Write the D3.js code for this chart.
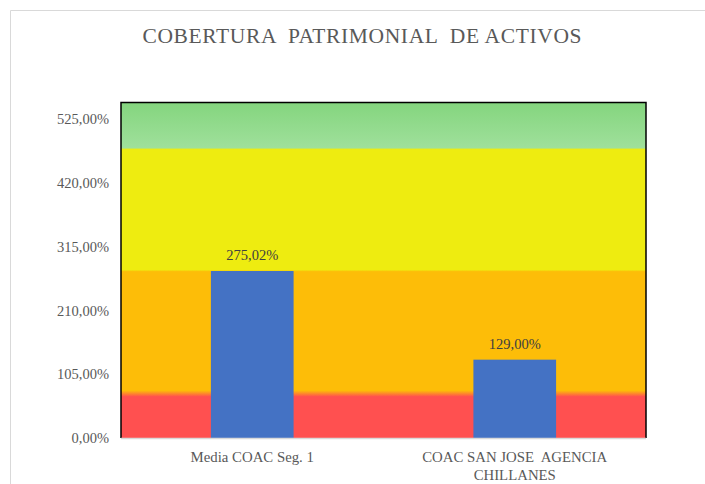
<!DOCTYPE html>
<html>
<head>
<meta charset="utf-8">
<script src="https://cdn.jsdelivr.net/npm/d3@7"></script>
<style>
  html, body { margin: 0; padding: 0; background: #fff; }
  svg { display: block; }
  text { white-space: pre; }
</style>
</head>
<body>
<svg id="chart" width="705" height="484"></svg>
<script>
const title = "COBERTURA  PATRIMONIAL  DE ACTIVOS";
const categories = ["Media COAC Seg. 1", "COAC SAN JOSE  AGENCIA CHILLANES"];
const categoryLines = [["Media COAC Seg. 1"], ["COAC SAN JOSE  AGENCIA", "CHILLANES"]];
const values = [275.02, 129.00];
const valueLabels = ["275,02%", "129,00%"];
const tickValues = [0, 105, 210, 315, 420, 525];
const tickLabels = ["0,00%", "105,00%", "210,00%", "315,00%", "420,00%", "525,00%"];
const yMax = 552.5;
// background zones (value thresholds)
const zoneBreaks = [70, 275, 476];
const zoneColors = ["#ff5050", "#fdbd08", "#eeec10", "#9fe09b", "#84d57e"];

const W = 705, H = 484;
const m = { left: 121, right: 59, top: 102.5, bottom: 46 };
const svg = d3.select("#chart");
const FONT = "'Liberation Serif', 'Times New Roman', serif";

// outer chart border (partially visible)
svg.append("path")
  .attr("d", `M10.5,${H} L10.5,10.5 L${W},10.5`)
  .attr("fill", "none").attr("stroke", "#d9d9d9").attr("stroke-width", 1);

const x = d3.scaleBand().domain(categories).range([m.left, W - m.right]).paddingInner(0).paddingOuter(0);
const y = d3.scaleLinear().domain([0, yMax]).range([H - m.bottom, m.top]);

// gradient for background
const defs = svg.append("defs");
const grad = defs.append("linearGradient").attr("id", "bg")
  .attr("gradientUnits", "userSpaceOnUse")
  .attr("x1", 0).attr("x2", 0).attr("y1", y(0)).attr("y2", y(yMax));
const off = v => (v / yMax);
const stops = [
  [0, zoneColors[0]],
  [off(zoneBreaks[0] - 2), zoneColors[0]],
  [off(zoneBreaks[0] + 8), zoneColors[1]],
  [off(zoneBreaks[1] - 1), zoneColors[1]],
  [off(zoneBreaks[1] + 2), zoneColors[2]],
  [off(zoneBreaks[2] - 1), zoneColors[2]],
  [off(zoneBreaks[2] + 2), zoneColors[3]],
  [1, zoneColors[4]]
];
stops.forEach(([o, c]) => grad.append("stop").attr("offset", o).attr("stop-color", c));

svg.append("rect")
  .attr("x", m.left).attr("y", y(yMax))
  .attr("width", W - m.right - m.left).attr("height", y(0) - y(yMax))
  .attr("fill", "url(#bg)");

// bars
const bw = x.bandwidth() * 0.315;
svg.selectAll("rect.bar").data(values).enter().append("rect")
  .attr("class", "bar")
  .attr("x", (d, i) => x(categories[i]) + x.bandwidth() / 2 - bw / 2)
  .attr("y", d => y(d))
  .attr("width", bw)
  .attr("height", d => y(0) - y(d))
  .attr("fill", "#4472c4");

// data labels
svg.selectAll("text.vl").data(values).enter().append("text")
  .attr("class", "vl")
  .attr("x", (d, i) => x(categories[i]) + x.bandwidth() / 2)
  .attr("y", d => y(d) - 11)
  .attr("text-anchor", "middle")
  .attr("font-family", FONT)
  .attr("font-size", 14.5)
  .attr("fill", "#404040")
  .text((d, i) => valueLabels[i]);

// frame: left, top, right black
svg.append("path")
  .attr("d", `M${m.left},${y(0)} L${m.left},${y(yMax)} L${W - m.right},${y(yMax)} L${W - m.right},${y(0)}`)
  .attr("fill", "none").attr("stroke", "#000").attr("stroke-width", 1.5);

// bottom axis line
svg.append("line")
  .attr("x1", m.left).attr("x2", W - m.right)
  .attr("y1", y(0) + 0.5).attr("y2", y(0) + 0.5)
  .attr("stroke", "#d9d9d9").attr("stroke-width", 1.5);

// y axis labels
const yAxis = d3.axisLeft(y).tickValues(tickValues).tickSize(0).tickPadding(12)
  .tickFormat((d, i) => tickLabels[i]);
const gy = svg.append("g").attr("transform", `translate(${m.left},0)`).call(yAxis);
gy.select(".domain").remove();
gy.selectAll("text")
  .attr("font-family", FONT)
  .attr("font-size", 14.5)
  .attr("fill", "#595959");

// x category labels
const gx = svg.append("g");
categories.forEach((c, i) => {
  const t = gx.append("text")
    .attr("x", x(c) + x.bandwidth() / 2)
    .attr("y", y(0) + 24)
    .attr("text-anchor", "middle")
    .attr("font-family", FONT)
    .attr("font-size", 14.8)
    .attr("fill", "#595959");
  categoryLines[i].forEach((ln, j) => {
    t.append("tspan").attr("x", x(c) + x.bandwidth() / 2).attr("dy", j === 0 ? 0 : 18).text(ln);
  });
});

// title
svg.append("text")
  .attr("x", 362).attr("y", 43)
  .attr("text-anchor", "middle")
  .attr("font-family", FONT)
  .attr("font-size", 21.5)
  .attr("fill", "#595959")
  .attr("textLength", 439)
  .attr("lengthAdjust", "spacing")
  .text(title);
</script>
</body>
</html>
